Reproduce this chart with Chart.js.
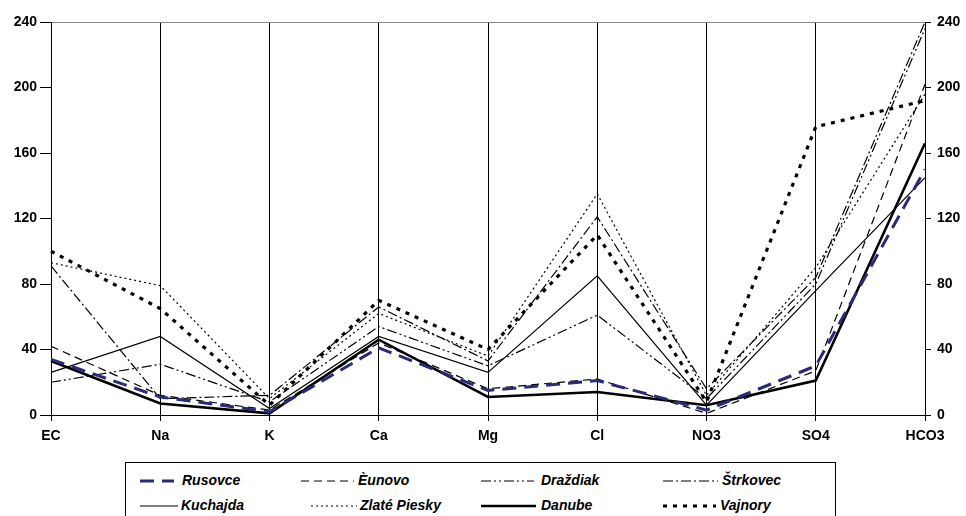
<!DOCTYPE html>
<html>
<head>
<meta charset="utf-8">
<script src="https://cdn.jsdelivr.net/npm/chart.js@4.4.0/dist/chart.umd.min.js"></script>
<style>
  body { margin: 0; background: #fff; font-family: "Liberation Sans", Arial, sans-serif; }
  #wrap { position: relative; width: 966px; height: 516px; overflow: hidden; }
  #box { position: absolute; left: 0; top: 0; width: 966px; height: 455px; }
  #legend { position: absolute; left: 125px; top: 462px; width: 709px; height: 70px; border: 1px solid #000; }
  .item { position: absolute; height: 20px; font: italic bold 14px "Liberation Sans", Arial, sans-serif; color: #000; white-space: nowrap; }
  .item svg { position: absolute; top: 4px; }
  .item span { position: absolute; top: 1px; }
</style>
</head>
<body>
<div id="wrap">
  <div id="box"><canvas id="chart"></canvas></div>
  <div id="legend"></div>
</div>
<script>
// Categorías (parámetros químicos)
const parametros = ['EC', 'Na', 'K', 'Ca', 'Mg', 'Cl', 'NO3', 'SO4', 'HCO3'];
const ticksY = [0, 40, 80, 120, 160, 200, 240];

// Valores, por sitio
const rusovce     = [34, 11, 2, 41, 15, 21, 3, 30, 150];
const cunovo      = [42, 12, 3, 44, 16, 22, 1, 27, 202];
const drazdiak    = [20, 31, 8, 54, 30, 61, 10, 80, 236];
const strkovec    = [91, 10, 12, 66, 33, 121, 16, 84, 240];
const kuchajda    = [26, 48, 4, 48, 26, 85, 6, 76, 145];
const zlatePiesky = [93, 79, 10, 62, 36, 135, 12, 90, 196];
const danube      = [33, 7, 1, 46, 11, 14, 6, 21, 166];
const vajnory     = [100, 65, 6, 70, 40, 110, 8, 176, 192];

// Estilos de cada serie
const series = [
    { label: 'Rusovce', data: rusovce, color: '#2a2a78', width: 3, dash: [14, 8] },
    { label: 'Èunovo', data: cunovo, color: '#000', width: 1.2, dash: [8, 5] },
    { label: 'Draždiak', data: drazdiak, color: '#000', width: 1.2, dash: [10, 3, 2, 3, 2, 3] },
    { label: 'Štrkovec', data: strkovec, color: '#000', width: 1.2, dash: [10, 3, 2, 3] },
    { label: 'Kuchajda', data: kuchajda, color: '#000', width: 1.2, dash: [] },
    { label: 'Zlaté Piesky', data: zlatePiesky, color: '#000', width: 1.2, dash: [2, 3] },
    { label: 'Danube', data: danube, color: '#000', width: 2.6, dash: [] },
    { label: 'Vajnory', data: vajnory, color: '#000', width: 3.2, dash: [4, 6] }
];

const fuente = { family: '"Liberation Sans", Arial, sans-serif', size: 14, weight: 'bold' };

const ctx = document.getElementById('chart');
new Chart(ctx, {
    type: 'line',
    data: {
        labels: parametros,
        datasets: series.map(function(s) {
            return {
                label: s.label,
                data: s.data,
                borderColor: s.color,
                borderWidth: s.width,
                borderDash: s.dash,
                pointRadius: 0,
                tension: 0,
                fill: false,
                yAxisID: 'y'
            };
        })
    },
    options: {
        responsive: true,
        maintainAspectRatio: false,
        animation: false,
        layout: { padding: { top: 22, left: 0, right: 0, bottom: 0 } },
        plugins: { legend: { display: false }, tooltip: { enabled: false } },
        scales: {
            x: {
                type: 'category',
                offset: false,
                grid: { color: '#000', lineWidth: 1, tickLength: 6 },
                border: { color: '#000', width: 1 },
                ticks: { color: '#000', font: fuente, padding: 7, maxRotation: 0, autoSkip: false },
                afterFit: function(scale) { scale.height = 40; }
            },
            y: {
                position: 'left',
                min: 0,
                max: 240,
                afterBuildTicks: function(scale) { scale.ticks = ticksY.map(v => ({ value: v })); },
                grid: {
                    color: function(c) { return c.tick && c.tick.value === 240 ? '#8a8a8a' : 'rgba(0,0,0,0)'; },
                    tickColor: '#000',
                    tickLength: 11
                },
                border: { color: '#000', width: 1 },
                ticks: { color: '#000', font: fuente, padding: 3 },
                afterFit: function(scale) { scale.width = 51; }
            },
            y2: {
                position: 'right',
                min: 0,
                max: 240,
                afterBuildTicks: function(scale) { scale.ticks = ticksY.map(v => ({ value: v })); },
                grid: { drawOnChartArea: false, tickColor: '#000', tickLength: 6 },
                border: { color: '#000', width: 1 },
                ticks: { color: '#000', font: fuente, padding: 6 },
                afterFit: function(scale) { scale.width = 41; }
            }
        }
    }
});

// Leyenda personalizada con muestras de línea: [x muestra, largo, x texto, y]
const posiciones = [
    [14, 34, 56, 8], [175, 53, 232, 8], [355, 53, 415, 8], [537, 55, 596, 8],
    [14, 38, 55, 33], [185, 46, 234, 33], [355, 55, 415, 33], [537, 53, 594, 33]
];
const leyenda = document.getElementById('legend');
series.forEach(function(s, i) {
    const p = posiciones[i];
    const item = document.createElement('div');
    item.className = 'item';
    item.style.left = '0px';
    item.style.top = p[3] + 'px';
    item.innerHTML =
        '<svg style="left:' + p[0] + 'px" width="' + p[1] + '" height="12"><line x1="0" y1="6" x2="' + p[1] + '" y2="6" stroke="' + s.color +
        '" stroke-width="' + s.width + '" stroke-dasharray="' + (s.dash.length ? s.dash.join(',') : 'none') + '"/></svg>' +
        '<span style="left:' + p[2] + 'px">' + s.label + '</span>';
    leyenda.appendChild(item);
});
</script>
</body>
</html>
